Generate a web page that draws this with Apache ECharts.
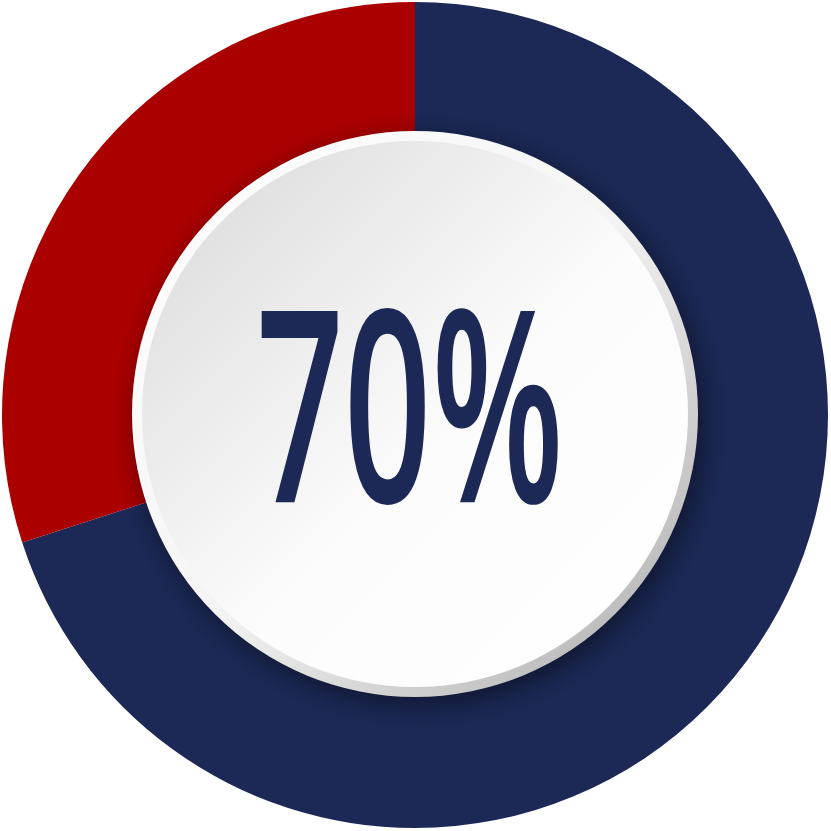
<!DOCTYPE html>
<html><head><meta charset="utf-8">
<script src="https://cdn.jsdelivr.net/npm/echarts@6/dist/echarts.min.js"></script>
<style>html,body{margin:0;padding:0;background:#fff}#c{width:831px;height:831px}</style>
</head><body><div id="c"></div>
<script>
const categories = ['Achieved', 'Remaining'];
const values = [70, 30];
const colors = ['#1c2957', '#ab0000'];

const total = values.reduce((a, b) => a + b, 0);
const pct = Math.round(values[0] / total * 100) + '%';

const chart = echarts.init(document.getElementById('c'), null, {renderer: 'canvas'});
chart.setOption({
  animation: false,
  series: [{
    type: 'pie',
    silent: true,
    center: [415, 415],
    radius: [240, 413],
    startAngle: 90,
    clockwise: true,
    z: 1,
    label: {show: false},
    labelLine: {show: false},
    data: categories.map((n, i) => ({name: n, value: values[i], itemStyle: {color: colors[i]}}))
  }],
  graphic: [
    {
      type: 'circle',
      z: 100,
      shape: {cx: 415, cy: 414, r: 283},
      style: {
        fill: new echarts.graphic.LinearGradient(0, 0, 1, 1, [
          {offset: 0, color: '#ffffff'},
          {offset: 0.5, color: '#f4f4f4'},
          {offset: 1, color: '#a8a8a8'}
        ]),
        shadowBlur: 28,
        shadowOffsetX: 5,
        shadowOffsetY: 7,
        shadowColor: 'rgba(0,0,0,0.5)'
      },
      silent: true
    },
    {
      type: 'circle',
      z: 101,
      shape: {cx: 415, cy: 414, r: 273},
      style: {
        fill: new echarts.graphic.LinearGradient(0, 0, 1, 1, [
          {offset: 0, color: '#d8d8d8'},
          {offset: 0.55, color: '#fcfcfc'},
          {offset: 1, color: '#ffffff'}
        ])
      },
      silent: true
    },
    {
      type: 'text',
      z: 102,
      x: 410,
      y: 426,
      scaleX: 0.572,
      silent: true,
      style: {
        text: pct,
        x: 0, y: 0,
        textAlign: 'center',
        textVerticalAlign: 'middle',
        fontFamily: 'Open Sans',
        fontWeight: 600,
        fontSize: 268,
        fill: '#1c2957'
      }
    }
  ]
});
</script></body></html>
